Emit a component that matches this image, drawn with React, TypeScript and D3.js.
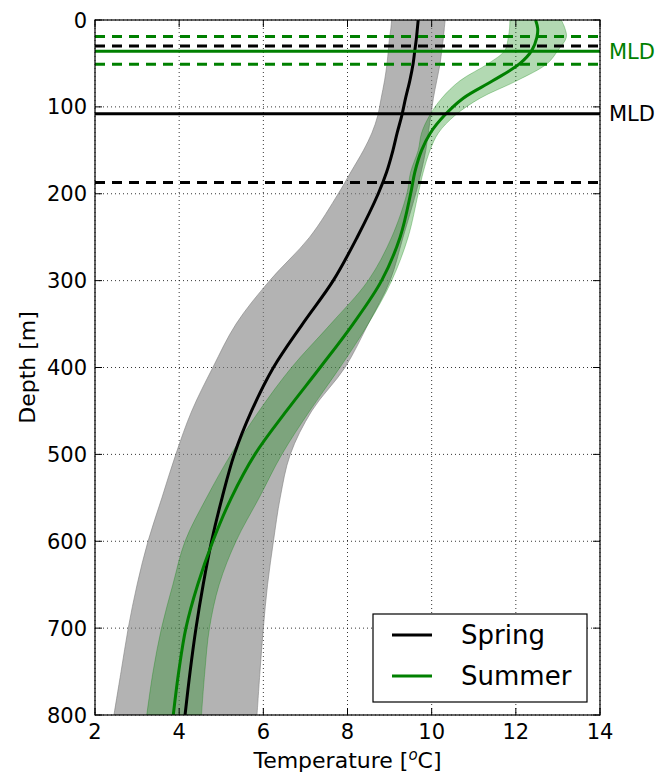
import React, { useEffect, useRef } from 'react';
import * as d3 from 'd3';

// Depth levels (m) shared by every profile
const depths = [0, 10, 20, 35, 50, 70, 90, 110, 130, 150, 175, 200, 250, 300, 350, 400, 450, 500, 550, 600, 650, 700, 750, 800];

// Spring profile: mean temperature and envelope (°C)
const springMean = [9.68, 9.66, 9.64, 9.6, 9.56, 9.48, 9.38, 9.29, 9.18, 9.08, 8.93, 8.73, 8.23, 7.66, 6.93, 6.24, 5.72, 5.31, 5.02, 4.77, 4.57, 4.4, 4.26, 4.14];
const springLow = [9.05, 9.03, 9.0, 8.97, 8.94, 8.88, 8.8, 8.72, 8.58, 8.38, 8.08, 7.78, 7.1, 6.15, 5.35, 4.8, 4.3, 3.92, 3.59, 3.26, 3.0, 2.79, 2.62, 2.45];
const springHigh = [10.32, 10.3, 10.28, 10.24, 10.2, 10.12, 10.04, 9.98, 9.92, 9.86, 9.75, 9.62, 9.32, 9.01, 8.49, 7.94, 7.15, 6.64, 6.4, 6.24, 6.1, 6.0, 5.92, 5.85];

// Summer profile: mean temperature and envelope (°C)
const summerMean = [12.47, 12.52, 12.5, 12.38, 12.1, 11.45, 10.75, 10.3, 9.97, 9.76, 9.6, 9.5, 9.25, 8.81, 8.13, 7.35, 6.55, 5.8, 5.24, 4.8, 4.44, 4.16, 3.99, 3.86];
const summerLow = [11.86, 11.85, 11.82, 11.74, 11.35, 10.67, 10.24, 9.95, 9.76, 9.68, 9.5, 9.41, 9.05, 8.49, 7.6, 6.67, 5.9, 5.23, 4.65, 4.14, 3.85, 3.58, 3.38, 3.23];
const summerHigh = [13.08, 13.17, 13.2, 13.0, 12.75, 12.02, 11.15, 10.55, 10.16, 9.96, 9.8, 9.68, 9.44, 9.05, 8.49, 7.82, 7.1, 6.44, 5.9, 5.35, 4.95, 4.72, 4.61, 4.53];

// Mixed layer depths (m)
const springMld = 108;
const springMldRange = [30, 187];
const summerMld = 36;
const summerMldRange = [19, 51];

const xTicks = [2, 4, 6, 8, 10, 12, 14];
const yTicks = [0, 100, 200, 300, 400, 500, 600, 700, 800];

interface ProfileRow {
  depth: number;
  mean: number;
  low: number;
  high: number;
}

const makeRows = (mean: number[], low: number[], high: number[]): ProfileRow[] =>
  depths.map((depth, i) => ({ depth, mean: mean[i], low: low[i], high: high[i] }));

const FONT = "'DejaVu Sans', sans-serif";

const App: React.FC = () => {
  const svgRef = useRef<SVGSVGElement | null>(null);

  useEffect(() => {
    if (!svgRef.current) return;
    const svg = d3.select(svgRef.current);
    svg.selectAll("*").remove();

    const width = 657;
    const height = 774;
    const left = 95, right = 600, top = 20, bottom = 715;

    svg.attr("width", width).attr("height", height)
      .style("font-family", FONT);

    const x = d3.scaleLinear().domain([2, 14]).range([left, right]);
    const y = d3.scaleLinear().domain([0, 800]).range([top, bottom]);

    // clip to the axes box
    svg.append("clipPath").attr("id", "plotClip")
      .append("rect")
      .attr("x", left).attr("y", top)
      .attr("width", right - left).attr("height", bottom - top);

    // grid
    const grid = svg.append("g");
    xTicks.forEach(t => {
      grid.append("line")
        .attr("x1", x(t)).attr("x2", x(t)).attr("y1", top).attr("y2", bottom)
        .attr("stroke", "#000").attr("stroke-width", 0.8).attr("stroke-dasharray", "1,3");
    });
    yTicks.forEach(t => {
      grid.append("line")
        .attr("x1", left).attr("x2", right).attr("y1", y(t)).attr("y2", y(t))
        .attr("stroke", "#000").attr("stroke-width", 0.8).attr("stroke-dasharray", "1,3");
    });

    const plot = svg.append("g").attr("clip-path", "url(#plotClip)");

    const spring = makeRows(springMean, springLow, springHigh);
    const summer = makeRows(summerMean, summerLow, summerHigh);

    const band = d3.area<ProfileRow>()
      .y(d => y(d.depth))
      .x0(d => x(d.low))
      .x1(d => x(d.high))
      .curve(d3.curveCatmullRom.alpha(0.5));

    const meanLine = d3.line<ProfileRow>()
      .x(d => x(d.mean))
      .y(d => y(d.depth))
      .curve(d3.curveCatmullRom.alpha(0.5));

    plot.append("path").datum(spring)
      .attr("d", band)
      .attr("fill", "#808080").attr("fill-opacity", 0.6)
      .attr("stroke", "#808080").attr("stroke-opacity", 0.6).attr("stroke-width", 1);

    plot.append("path").datum(summer)
      .attr("d", band)
      .attr("fill", "green").attr("fill-opacity", 0.3)
      .attr("stroke", "green").attr("stroke-opacity", 0.3).attr("stroke-width", 1);

    plot.append("path").datum(spring)
      .attr("d", meanLine)
      .attr("fill", "none").attr("stroke", "#000").attr("stroke-width", 3);

    plot.append("path").datum(summer)
      .attr("d", meanLine)
      .attr("fill", "none").attr("stroke", "green").attr("stroke-width", 3);

    // mixed layer depth lines
    const hLine = (depth: number, color: string, dashed: boolean) => {
      plot.append("line")
        .attr("x1", left).attr("x2", right)
        .attr("y1", y(depth)).attr("y2", y(depth))
        .attr("stroke", color).attr("stroke-width", 3)
        .attr("stroke-dasharray", dashed ? "10,7" : null);
    };
    springMldRange.forEach(d => hLine(d, "#000", true));
    hLine(springMld, "#000", false);
    summerMldRange.forEach(d => hLine(d, "green", true));
    hLine(summerMld, "green", false);

    svg.append("text")
      .attr("x", 609).attr("y", y(summerMld)).attr("dy", "0.36em")
      .attr("font-size", 21).attr("fill", "green")
      .text("MLD");
    svg.append("text")
      .attr("x", 609).attr("y", y(springMld)).attr("dy", "0.36em")
      .attr("font-size", 21).attr("fill", "#000")
      .text("MLD");

    // axes frame
    svg.append("rect")
      .attr("x", left).attr("y", top)
      .attr("width", right - left).attr("height", bottom - top)
      .attr("fill", "none").attr("stroke", "#000").attr("stroke-width", 1.2);

    // inward ticks on all sides
    const tickLen = 7;
    const ticks = svg.append("g").attr("stroke", "#000").attr("stroke-width", 1);
    xTicks.forEach(t => {
      ticks.append("line").attr("x1", x(t)).attr("x2", x(t)).attr("y1", bottom).attr("y2", bottom - tickLen);
      ticks.append("line").attr("x1", x(t)).attr("x2", x(t)).attr("y1", top).attr("y2", top + tickLen);
    });
    yTicks.forEach(t => {
      ticks.append("line").attr("x1", left).attr("x2", left + tickLen).attr("y1", y(t)).attr("y2", y(t));
      ticks.append("line").attr("x1", right).attr("x2", right - tickLen).attr("y1", y(t)).attr("y2", y(t));
    });

    // tick labels
    xTicks.forEach(t => {
      svg.append("text")
        .attr("x", x(t)).attr("y", 739)
        .attr("text-anchor", "middle").attr("font-size", 21)
        .text(t);
    });
    yTicks.forEach(t => {
      svg.append("text")
        .attr("x", 87).attr("y", y(t)).attr("dy", "0.36em")
        .attr("text-anchor", "end").attr("font-size", 21)
        .text(t);
    });

    // axis labels
    const xLabel = svg.append("text")
      .attr("x", (left + right) / 2).attr("y", 768)
      .attr("text-anchor", "middle").attr("font-size", 22);
    xLabel.append("tspan").text("Temperature [");
    xLabel.append("tspan").attr("dy", -8).attr("font-size", 15).attr("font-style", "italic").text("o");
    xLabel.append("tspan").attr("dy", 8).text("C]");

    svg.append("text")
      .attr("transform", `translate(35, ${(top + bottom) / 2}) rotate(-90)`)
      .attr("text-anchor", "middle").attr("font-size", 22)
      .text("Depth [m]");

    // legend
    const legend = svg.append("g").attr("transform", "translate(373, 614)");
    legend.append("rect")
      .attr("width", 214).attr("height", 88)
      .attr("fill", "#fff").attr("stroke", "#000").attr("stroke-width", 1.2);
    const entries = [
      { label: "Spring", color: "#000" },
      { label: "Summer", color: "green" }
    ];
    entries.forEach((e, i) => {
      const cy = 21 + i * 41;
      legend.append("line")
        .attr("x1", 19).attr("x2", 59).attr("y1", cy).attr("y2", cy)
        .attr("stroke", e.color).attr("stroke-width", 3);
      legend.append("text")
        .attr("x", 88).attr("y", cy).attr("dy", "0.36em")
        .attr("font-size", 26)
        .text(e.label);
    });
  }, []);

  return (
    <div style={{ position: "absolute", left: 0, top: 0, background: "#fff" }}>
      <svg ref={svgRef}></svg>
    </div>
  );
};

export default App;
